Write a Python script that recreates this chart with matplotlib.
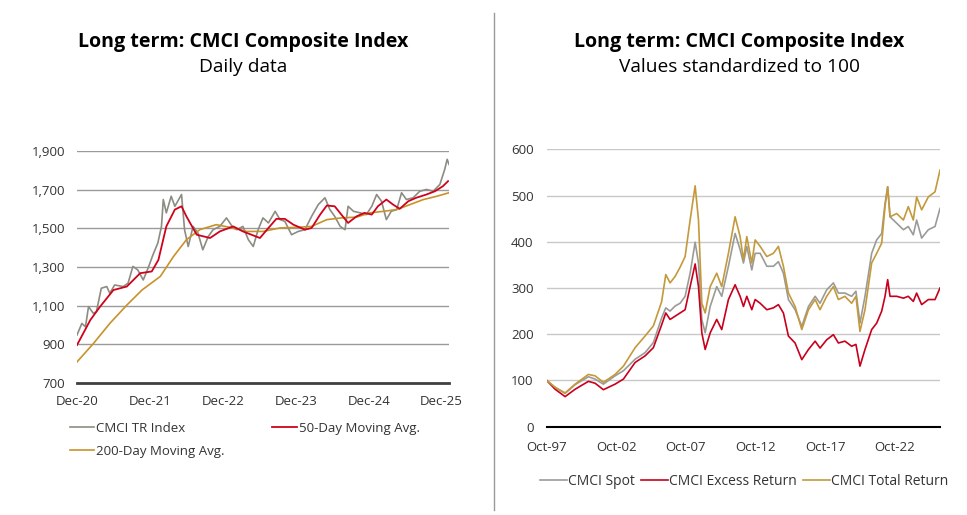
import matplotlib.pyplot as plt
import matplotlib.lines as mlines

plt.rcParams['font.family'] = ['Open Sans', 'DejaVu Sans']

# left panel: months after Dec-20
tr_m = [0, 0.8, 1.4, 1.9, 2.7, 3.2, 4.0, 4.9, 5.4, 6.2, 7.6, 8.4, 9.2, 10.0, 10.9, 11.7,
        12.5, 13.3, 13.9, 14.2, 14.7, 15.5, 16.1, 17.2, 17.7, 18.3, 19.1, 19.9, 20.7, 21.6,
        22.4, 23.5, 24.6, 25.7, 26.3, 27.3, 28.2, 29.0, 29.8, 30.6, 31.5, 32.6, 33.4, 34.2,
        35.3, 36.4, 37.5, 38.6, 39.7, 40.8, 41.6, 42.4, 43.3, 44.1, 44.6, 45.5, 46.6, 47.6,
        48.5, 49.3, 50.1, 50.9, 51.7, 52.6, 53.4, 54.2, 55.3, 56.4, 57.5, 58.6, 59.7, 60.5,
        60.9, 61.2]
tr_v = [948, 1008, 991, 1095, 1060, 1069, 1190, 1199, 1164, 1207, 1199, 1216, 1303, 1285,
        1233, 1294, 1363, 1424, 1510, 1649, 1580, 1666, 1614, 1675, 1493, 1406, 1510, 1476,
        1389, 1458, 1493, 1510, 1554, 1502, 1493, 1510, 1441, 1406, 1493, 1554, 1528, 1588,
        1545, 1536, 1467, 1484, 1493, 1562, 1623, 1658, 1597, 1562, 1510, 1493, 1614, 1588,
        1580, 1571, 1614, 1675, 1640, 1545, 1588, 1597, 1684, 1649, 1658, 1692, 1701, 1692,
        1727, 1805, 1857, 1831]

ma50_m = [0, 2.2, 3.8, 6.0, 8.2, 10.4, 12.3, 13.4, 14.7, 16.1, 17.2, 18.0, 19.7, 21.9,
          23.5, 25.7, 27.3, 30.1, 31.5, 32.8, 34.2, 35.6, 37.5, 38.6, 40.0, 41.1, 42.4,
          43.5, 44.6, 46.0, 47.3, 48.5, 49.5, 50.9, 52.0, 53.1, 54.5, 55.8, 57.5, 58.9,
          60.2, 61.05]
ma50_v = [896, 1026, 1095, 1181, 1199, 1268, 1277, 1337, 1510, 1597, 1614, 1562, 1467,
          1450, 1484, 1510, 1484, 1450, 1502, 1549, 1549, 1519, 1493, 1502, 1571, 1618,
          1614, 1571, 1528, 1562, 1580, 1571, 1614, 1649, 1623, 1601, 1640, 1658, 1675,
          1692, 1718, 1744]

ma200_m = [0, 2.7, 5.4, 8.2, 10.7, 13.7, 15.9, 18.0, 20.2, 22.9, 25.7, 27.9, 30.6, 33.4,
           36.1, 38.6, 41.1, 43.5, 46.0, 48.2, 50.4, 52.6, 54.8, 57.0, 59.2, 61.2]
ma200_v = [809, 904, 1008, 1103, 1181, 1251, 1355, 1441, 1493, 1519, 1502, 1484, 1484,
           1502, 1505, 1510, 1545, 1554, 1558, 1580, 1588, 1597, 1623, 1649, 1666, 1684]

left_ticks = [0, 12, 24, 36, 48, 60]
left_labels = ['Dec-20', 'Dec-21', 'Dec-22', 'Dec-23', 'Dec-24', 'Dec-25']

# right panel: decimal years
yrs = [1997.75, 1998.35, 1999.07, 1999.79, 2000.74, 2001.22, 2001.82, 2002.66, 2003.26,
       2004.1, 2004.81, 2005.41, 2006.0, 2006.3, 2006.61, 2006.97, 2007.33, 2007.69,
       2008.05, 2008.41, 2008.65, 2008.89, 2009.13, 2009.49, 2009.96, 2010.32, 2010.8,
       2011.28, 2011.64, 2011.88, 2012.12, 2012.48, 2012.72, 2013.08, 2013.56, 2014.03,
       2014.39, 2014.75, 2015.11, 2015.59, 2016.07, 2016.55, 2017.03, 2017.38, 2017.86,
       2018.34, 2018.7, 2019.17, 2019.65, 2019.96, 2020.25, 2020.61, 2021.09, 2021.45,
       2021.81, 2022.05, 2022.24, 2022.41, 2022.89, 2023.37, 2023.72, 2024.08, 2024.32,
       2024.68, 2025.16, 2025.64, 2026.0]
total = [100, 85, 73, 92, 113, 110, 96, 113, 131, 171, 196, 218, 270, 329, 311, 325, 345,
         368, 447, 521, 447, 267, 246, 303, 332, 303, 375, 454, 411, 361, 411, 354, 404, 390,
         368, 375, 390, 347, 289, 260, 210, 253, 275, 253, 282, 303, 275, 282, 267, 282, 206,
         253, 354, 375, 397, 476, 519, 454, 461, 447, 476, 447, 497, 469, 497, 508, 555]
spot = [100, 85, 72, 91, 108, 103, 92, 110, 121, 146, 160, 182, 235, 257, 250, 261, 267,
        282, 332, 399, 354, 232, 203, 260, 303, 282, 347, 418, 383, 354, 390, 339, 375, 375,
        347, 347, 357, 332, 275, 253, 217, 260, 282, 267, 296, 311, 289, 289, 282, 293, 224,
        282, 375, 404, 418, 483, 519, 454, 440, 426, 433, 415, 447, 408, 426, 433, 472]
excess = [100, 81, 65, 81, 98, 94, 80, 92, 103, 139, 153, 171, 220, 246, 232, 239, 246,
          253, 303, 352, 303, 203, 167, 203, 232, 210, 275, 307, 282, 260, 282, 253, 275,
          267, 253, 257, 264, 246, 196, 181, 145, 167, 185, 170, 188, 199, 181, 185, 174,
          178, 131, 167, 210, 224, 250, 282, 318, 282, 282, 278, 282, 271, 289, 264, 275,
          275, 300]

right_ticks = [1997.75, 2002.75, 2007.75, 2012.75, 2017.75, 2022.75]
right_labels = ['Oct-97', 'Oct-02', 'Oct-07', 'Oct-12', 'Oct-17', 'Oct-22']

txt = '#333333'
fig = plt.figure(figsize=(9.67, 5.15), dpi=100)

# left
ax1 = fig.add_axes([0.0796, 0.2563, 0.3847, 0.4505])
l1, = ax1.plot(tr_m, tr_v, color='#8c8c82', lw=1.2)
l2, = ax1.plot(ma200_m, ma200_v, color='#c8922a', lw=1.2)
l3, = ax1.plot(ma50_m, ma50_v, color='#d0021b', lw=1.3)
ax1.set_xlim(0, 61.2)
ax1.set_ylim(700, 1900)
ax1.set_yticks(range(700, 1901, 200))
ax1.set_yticklabels(['{:,}'.format(v) for v in range(700, 1901, 200)])
ax1.set_xticks(left_ticks)
ax1.set_xticklabels(left_labels)
ax1.grid(axis='y', color='#9a9a9a', lw=1)
ax1.set_axisbelow(True)
for s in ['left', 'right', 'top']:
    ax1.spines[s].set_visible(False)
ax1.spines['bottom'].set_color('#404040')
ax1.spines['bottom'].set_linewidth(2)
ax1.tick_params(length=0, labelsize=9.5, colors=txt)
ax1.tick_params(axis='y', pad=8.5)
ax1.tick_params(axis='x', pad=8.5)

fig.legend([l1, l2, l3], ['CMCI TR Index', '200-Day Moving Avg.', '50-Day Moving Avg.'],
           ncol=2, loc='upper left', bbox_to_anchor=(70 / 967, 1 - 422 / 515), frameon=False,
           fontsize=9.5, handlelength=1.85, handletextpad=0.15, columnspacing=3.6,
           labelspacing=0.75, borderpad=0, borderaxespad=0, labelcolor=txt)

# right
ax2 = fig.add_axes([0.5654, 0.1715, 0.4067, 0.5386])
r1, = ax2.plot(yrs, spot, color='#9b9b96', lw=1.2)
r2, = ax2.plot(yrs, excess, color='#c8001e', lw=1.2)
r3, = ax2.plot(yrs, total, color='#c4993c', lw=1.2)
ax2.set_xlim(1997.75, 2026.0)
ax2.set_ylim(0, 600)
ax2.set_yticks(range(0, 601, 100))
ax2.set_xticks(right_ticks)
ax2.set_xticklabels(right_labels)
ax2.grid(axis='y', color='#c8c8c8', lw=1)
ax2.set_axisbelow(True)
for s in ['left', 'right', 'top']:
    ax2.spines[s].set_visible(False)
ax2.spines['bottom'].set_color('black')
ax2.spines['bottom'].set_linewidth(1.5)
ax2.tick_params(length=0, labelsize=9.5, colors=txt)
ax2.tick_params(axis='y', pad=9.5)
ax2.tick_params(axis='x', pad=10)

fig.legend([r1, r2, r3], ['CMCI Spot', 'CMCI Excess Return', 'CMCI Total Return'],
           ncol=3, loc='upper left', bbox_to_anchor=(540 / 967, 1 - 474 / 515), frameon=False,
           fontsize=10, handlelength=1.95, handletextpad=0.1, columnspacing=0.4,
           borderpad=0, borderaxespad=0, labelcolor=txt)

# titles
for xc, sub in [(0.2513, 'Daily data'), (0.7647, 'Values standardized to 100')]:
    fig.text(xc, 1 - 42 / 515, 'Long term: CMCI Composite Index', ha='center', va='center',
             fontsize=14.1, fontweight='bold', color='black')
    fig.text(xc, 1 - 67 / 515, sub, ha='center', va='center', fontsize=13.8, color='black')

fig.add_artist(mlines.Line2D([494 / 967, 494 / 967], [0.01, 0.975], color='#999999', lw=1))

fig.savefig('out.png', dpi=100)
